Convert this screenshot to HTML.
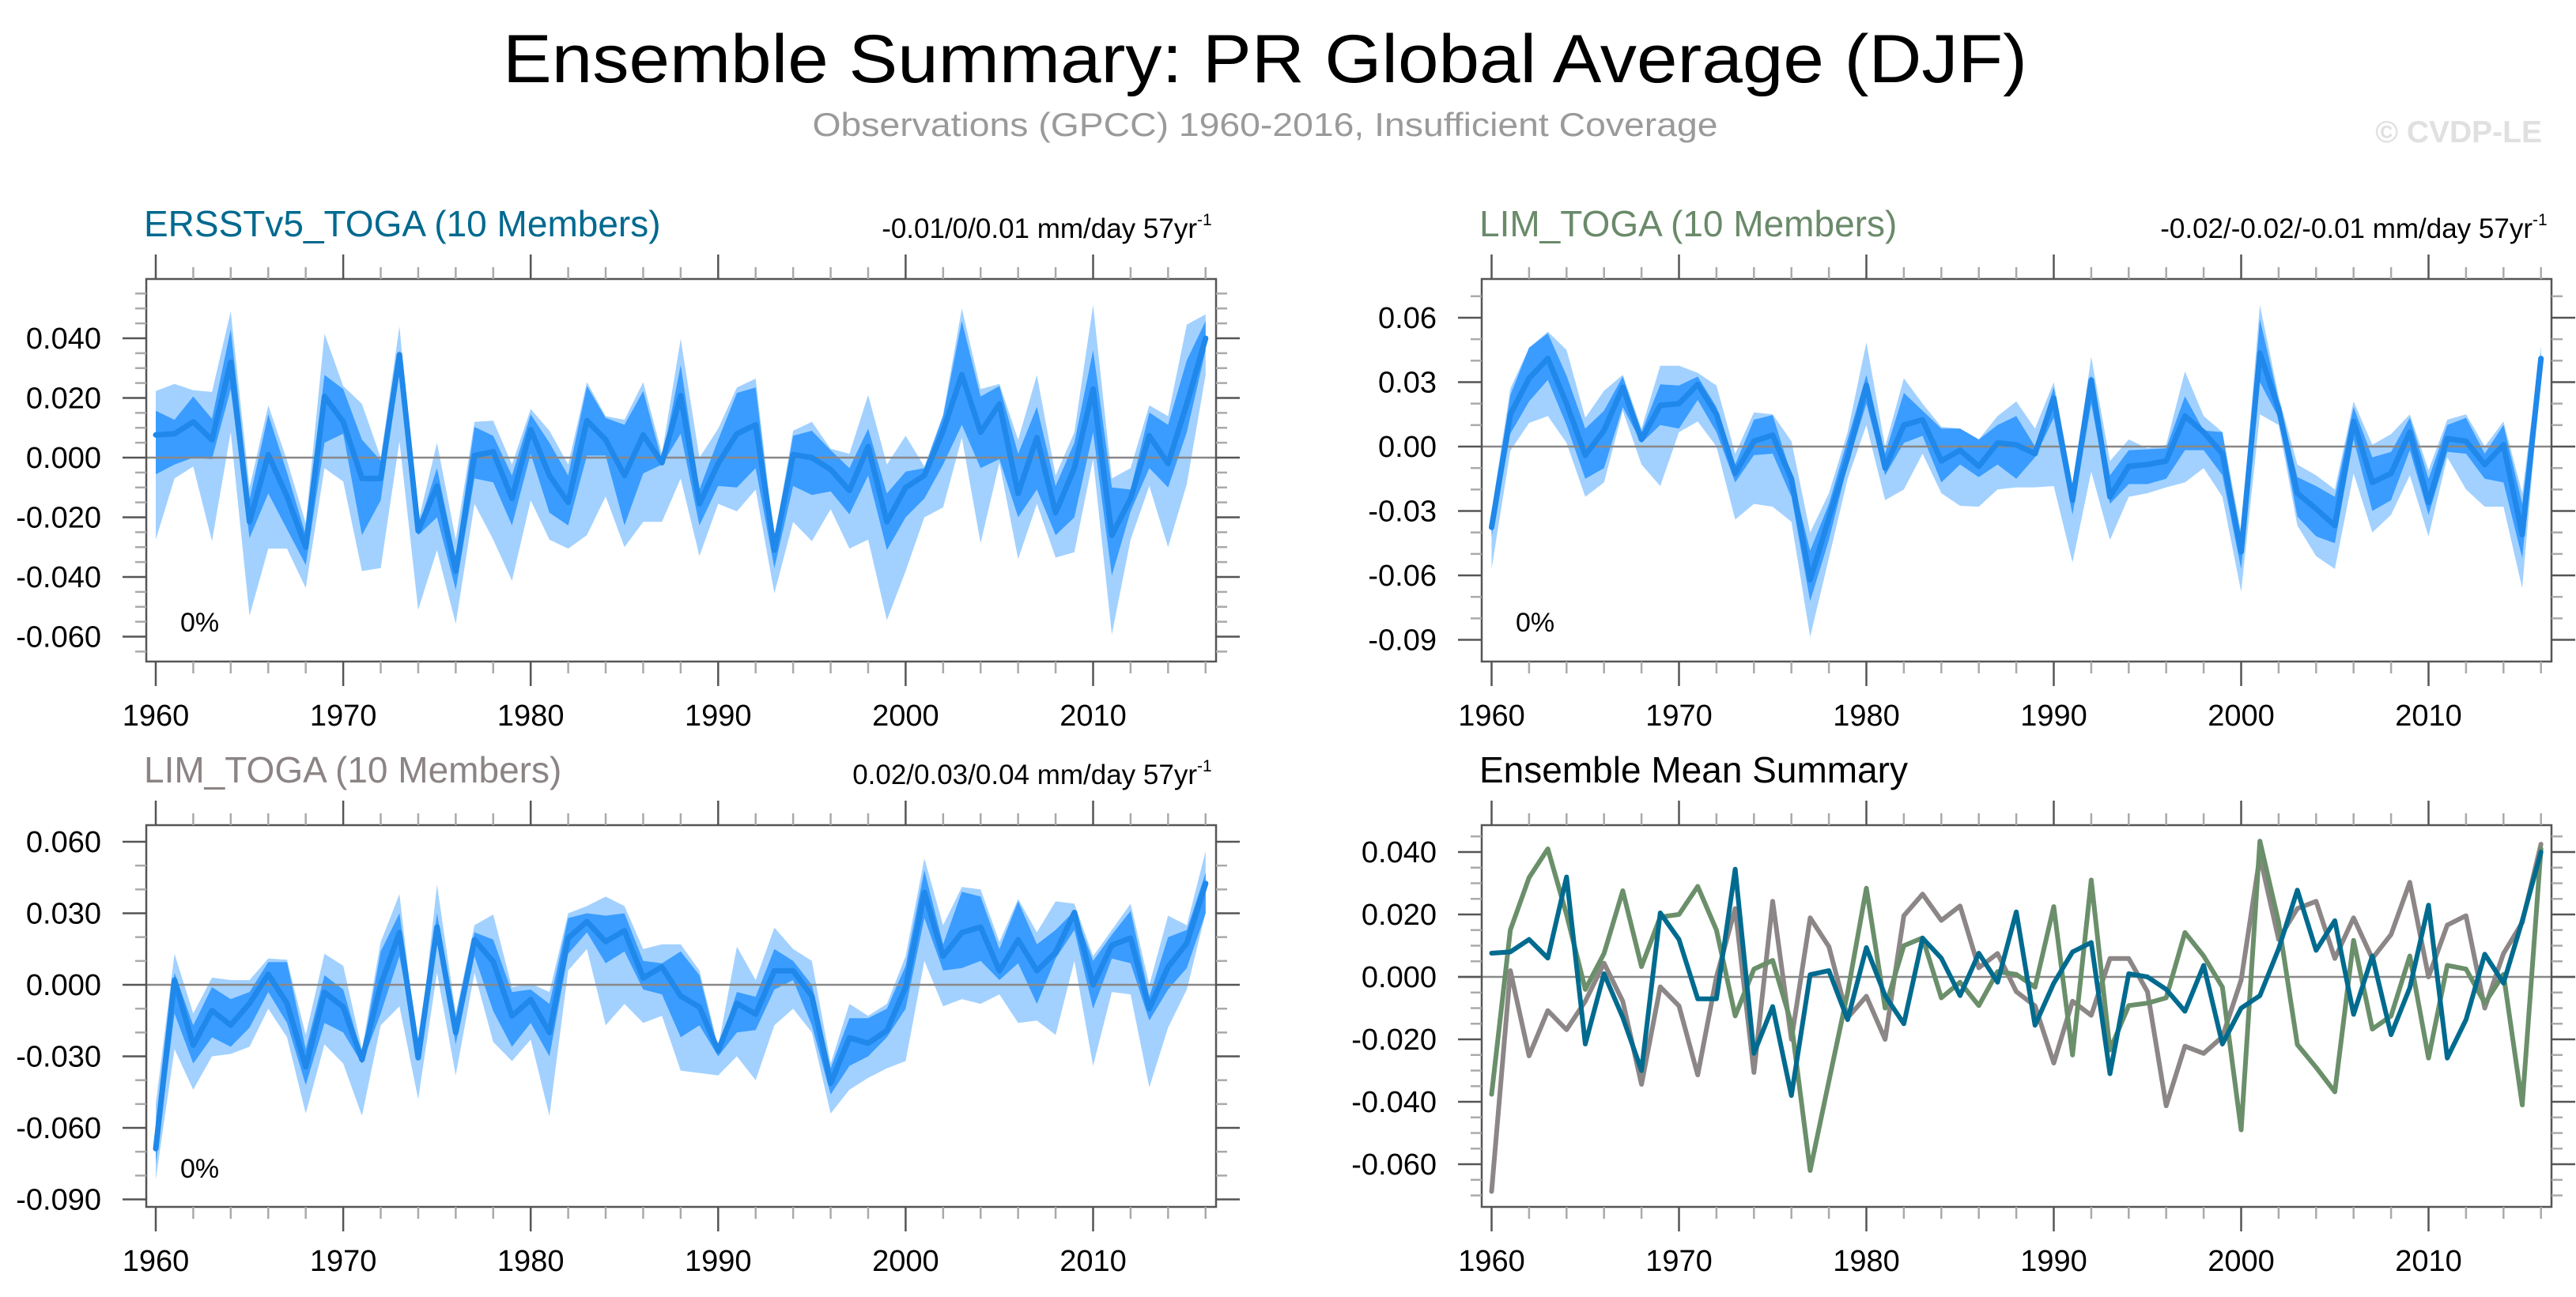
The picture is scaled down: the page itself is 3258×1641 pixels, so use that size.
<!DOCTYPE html>
<html><head><meta charset="utf-8"><style>
html,body{margin:0;padding:0;background:#fff;}
svg{display:block;font-family:"Liberation Sans",Arial,sans-serif;}
</style></head><body>
<svg id="fig" width="3258" height="1641" viewBox="0 0 3258 1641" xmlns="http://www.w3.org/2000/svg">
<rect width="3258" height="1641" fill="#fff"/>
<text x="1600" y="104" text-anchor="middle" font-size="86" textLength="1928" lengthAdjust="spacingAndGlyphs" fill="#000">Ensemble Summary: PR Global Average (DJF)</text>
<text x="1600" y="172" text-anchor="middle" font-size="42" textLength="1145" lengthAdjust="spacingAndGlyphs" fill="#9a9a9a">Observations (GPCC) 1960-2016, Insufficient Coverage</text>
<text x="3215" y="180" text-anchor="end" font-size="39" font-weight="bold" fill="#e0e0e0">© CVDP-LE</text>
</svg>
<script>
const years = [];
for (let y = 1960; y <= 2016; y++) years.push(y);

// Panel 1: ERSSTv5_TOGA
const ersstMean = [0.0076,0.008,0.012,0.006,0.032,-0.0215,0.001,-0.013,-0.030,0.0205,0.012,-0.007,-0.007,0.0345,-0.0245,-0.0095,-0.038,0.0007,0.002,-0.0137,0.0094,-0.006,-0.015,0.0124,0.006,-0.006,0.0076,-0.0017,0.0208,-0.0155,-0.002,0.008,0.011,-0.031,0.001,0,-0.004,-0.011,0.0037,-0.0215,-0.010,-0.006,0.009,0.0278,0.0085,0.018,-0.012,0.0067,-0.0185,-0.0035,0.023,-0.026,-0.0137,0.0073,-0.002,0.018,0.040];
const ersstOutHi = [0.0223,0.0247,0.0226,0.022,0.049,-0.010,0.0175,-0.001,-0.022,0.0415,0.024,0.018,0,0.044,-0.0215,0.005,-0.0275,0.012,0.0124,-0.0023,0.0163,0.009,-0.0023,0.0253,0.0139,0.0127,0.0253,0.0013,0.0398,0,0.0097,0.0235,0.0265,-0.0275,0.009,0.012,0.003,0.0013,0.021,-0.0023,0.0073,-0.003,0.0145,0.050,0.023,0.0247,0.006,0.0277,-0.006,0.0085,0.0512,-0.007,-0.0035,0.0175,0.0139,0.0446,0.048];
const ersstInHi = [0.0157,0.0127,0.0205,0.013,0.043,-0.014,0.0145,-0.005,-0.026,0.0277,0.023,0.006,-0.001,0.036,-0.0233,-0.0035,-0.0335,0.0103,0.0073,-0.006,0.0145,0.005,-0.006,0.024,0.0133,0.011,0.0223,-0.001,0.031,-0.0107,0.006,0.0217,0.0235,-0.0287,0.0073,0.009,0.0025,-0.0035,0.0097,-0.012,-0.0047,-0.0035,0.0139,0.0458,0.0205,0.024,0.0013,0.017,-0.0095,0.005,0.036,-0.010,-0.0107,0.0151,0.011,0.0326,0.0458];
const ersstInLo = [-0.0056,-0.0023,0,-0.0005,0.023,-0.027,-0.012,-0.024,-0.036,0.005,0.008,-0.026,-0.0143,0.030,-0.026,-0.020,-0.0443,-0.007,-0.0083,-0.0227,0.0013,-0.0185,-0.0227,0.0007,0.0007,-0.0227,-0.0053,-0.0023,0.008,-0.0227,-0.0095,-0.010,-0.0035,-0.037,-0.0095,-0.0125,-0.0113,-0.019,-0.006,-0.031,-0.020,-0.0137,-0.0023,0.011,-0.0035,-0.0005,-0.020,-0.0107,-0.026,-0.020,0.0085,-0.0395,-0.018,-0.0035,-0.010,0.0085,0.036];
const ersstOutLo = [-0.0275,-0.007,-0.003,-0.028,0.0085,-0.053,-0.0305,-0.0305,-0.0437,-0.0035,-0.008,-0.038,-0.037,0.0055,-0.051,-0.031,-0.0557,-0.0155,-0.0275,-0.0413,-0.0143,-0.0275,-0.0305,-0.026,-0.013,-0.030,-0.0215,-0.0215,-0.007,-0.033,-0.0155,-0.018,-0.0107,-0.0455,-0.0215,-0.028,-0.0173,-0.0305,-0.0275,-0.0545,-0.038,-0.020,-0.0167,0.0067,-0.0287,-0.0017,-0.034,-0.0155,-0.0335,-0.0317,-0.0005,-0.0593,-0.0275,-0.0095,-0.030,-0.0089,0.0277];

// Panel 2: LIM_TOGA (green)
const limMean = [-0.0376,0.015,0.0318,0.041,0.020,-0.004,0.0075,0.0276,0.0033,0.0192,0.020,0.029,0.015,-0.0125,0.0025,0.0053,-0.015,-0.062,-0.0334,-0.005,0.0284,-0.010,0.010,0.0125,-0.0067,-0.0017,-0.0092,0.0017,0.0008,-0.0033,0.0225,-0.025,0.031,-0.0234,-0.0092,-0.0084,-0.0067,0.0142,0.0067,-0.0033,-0.049,0.0435,0.0175,-0.0217,-0.029,-0.0368,0.0117,-0.0167,-0.0125,0.0067,-0.026,0.0037,0.0025,-0.0084,0.0008,-0.041,0.041];
const limOutHi = [-0.030,0.027,0.046,0.0535,0.045,0.0134,0.026,0.0334,0.0084,0.0376,0.0376,0.0343,0.0284,-0.0033,0.0159,0.015,0.0025,-0.040,-0.0217,0.0067,0.0485,0,0.0318,0.020,0.0092,0.0084,0.0033,0.0142,0.021,0.0084,0.030,-0.0184,0.0418,-0.0067,0.0033,-0.0008,0.0008,0.035,0.0142,0.0067,-0.040,0.066,0.0234,-0.0084,-0.0134,-0.020,0.021,0.0008,0.0058,0.015,-0.011,0.0125,0.015,0,0.0117,-0.0217,0.0468];
const limInHi = [-0.034,0.024,0.046,0.0527,0.033,0.0084,0.0167,0.0326,0.0067,0.029,0.0284,0.0326,0.0184,-0.0084,0.0125,0.0147,-0.0134,-0.0485,-0.0267,0.0033,0.0334,-0.0033,0.025,0.0167,0.0084,0.0084,0.0033,0.010,0.0142,0,0.0276,-0.0184,0.0334,-0.0134,-0.0017,-0.0013,-0.0008,0.0234,0.0075,0.0067,-0.045,0.0593,0.0217,-0.0142,-0.0184,-0.0234,0.0184,-0.005,-0.0025,0.0134,-0.015,0.010,0.0134,-0.0033,0.010,-0.0267,0.0435];
const limInLo = [-0.042,0.006,0.021,0.031,0.010,-0.015,-0.010,0.0184,0.0017,0.010,0.0084,0.0217,0.0067,-0.0167,-0.004,-0.0033,-0.0234,-0.072,-0.0435,-0.0084,0.020,-0.0134,0.0017,0.005,-0.0167,-0.0084,-0.0142,-0.0084,-0.015,-0.005,0.0134,-0.0318,0.020,-0.0267,-0.0175,-0.0175,-0.015,-0.0017,-0.0017,-0.0134,-0.057,0.030,0.0134,-0.0326,-0.0418,-0.045,0.0033,-0.030,-0.025,-0.0017,-0.0318,-0.0025,-0.0033,-0.015,-0.0167,-0.052,0.0384];
const limOutLo = [-0.057,-0.002,0.011,0.0142,0.0017,-0.0234,-0.0167,0.0167,-0.0084,-0.0184,0.0067,0.0117,0,-0.034,-0.0267,-0.028,-0.035,-0.0886,-0.052,-0.015,0.010,-0.025,-0.020,-0.0033,-0.0217,-0.0276,-0.028,-0.020,-0.019,-0.019,-0.0184,-0.054,-0.0117,-0.0435,-0.0234,-0.0217,-0.019,-0.0167,-0.010,-0.0234,-0.0677,0.015,0.010,-0.0368,-0.051,-0.057,-0.0125,-0.040,-0.0318,-0.0134,-0.0418,-0.005,-0.020,-0.028,-0.028,-0.066,0.035];

// Panel 3: LIM_TOGA (gray)
const grayMean = [-0.0687,0.002,-0.0253,-0.0108,-0.0169,-0.0078,0.0044,-0.0078,-0.0344,-0.0032,-0.0093,-0.0314,0,0.0219,-0.0306,0.0242,-0.020,0.0189,0.0097,-0.0131,-0.0062,-0.020,0.0196,0.0265,0.0181,0.0227,0.0029,0.0075,-0.0047,-0.0093,-0.0276,-0.0078,-0.0123,0.0059,0.0059,-0.0047,-0.0413,-0.0222,-0.0245,-0.0192,-0.001,0.0387,0.012,0.0219,0.0242,0.0059,0.0189,0.0059,0.0136,0.0303,0,0.0166,0.0196,-0.010,0.0075,0.0174,0.0425];
const grayOutHi = [-0.050,0.013,-0.012,0.003,0.002,0.002,0.011,0.0105,-0.021,0.013,0.008,-0.027,0.018,0.038,-0.030,0.042,-0.012,0.025,0.0295,-0.001,0.0005,-0.003,0.030,0.033,0.037,0.033,0.015,0.017,0.017,0.006,-0.026,0.016,0.002,0.024,0.015,0.010,-0.033,-0.008,-0.013,-0.008,0.012,0.053,0.025,0.041,0.040,0.018,0.036,0.022,0.035,0.034,0.012,0.023,0.034,0.0,0.029,0.025,0.056];
const grayInHi = [-0.058,0.005,-0.017,-0.001,-0.006,-0.003,0.0095,0.0095,-0.027,0.004,-0.002,-0.029,0.014,0.030,-0.030,0.030,-0.015,0.022,0.019,-0.003,-0.002,-0.008,0.028,0.030,0.029,0.030,0.010,0.009,0.014,0.004,-0.027,-0.003,-0.005,0.015,0.010,0,-0.035,-0.014,-0.014,-0.010,0.008,0.048,0.017,0.039,0.037,0.015,0.035,0.017,0.023,0.031,0.010,0.021,0.031,-0.005,0.020,0.023,0.047];
const grayInLo = [-0.075,-0.012,-0.033,-0.022,-0.026,-0.018,-0.003,-0.016,-0.042,-0.016,-0.020,-0.033,-0.012,0.012,-0.031,0.018,-0.025,0.012,-0.011,-0.026,-0.016,-0.030,0.013,0.022,0.009,0.014,-0.002,-0.004,-0.022,-0.017,-0.030,-0.020,-0.019,-0.002,0.002,-0.017,-0.046,-0.034,-0.030,-0.022,-0.010,0.028,0.006,0.007,0.010,0.002,0.009,-0.008,0.011,0.023,-0.010,0.011,0.009,-0.015,-0.002,0.007,0.030];
const grayOutLo = [-0.0816,-0.027,-0.044,-0.030,-0.029,-0.026,-0.010,-0.022,-0.054,-0.025,-0.033,-0.055,-0.017,-0.009,-0.048,0.005,-0.038,0.005,-0.024,-0.032,-0.023,-0.055,0.006,0.015,-0.017,-0.008,-0.016,-0.013,-0.036,-0.037,-0.038,-0.030,-0.040,-0.017,-0.010,-0.020,-0.054,-0.044,-0.039,-0.035,-0.032,0.010,-0.009,-0.006,-0.008,-0.004,-0.016,-0.015,-0.021,0.010,-0.034,-0.003,-0.004,-0.043,-0.018,-0.002,0.030];

// tick values / labels
const xTickYears = [1960,1970,1980,1990,2000,2010];
const xTickLabels = ["1960","1970","1980","1990","2000","2010"];
const p1YTicks = [0.04,0.02,0,-0.02,-0.04,-0.06];
const p1YLabels = ["0.040","0.020","0.000","-0.020","-0.040","-0.060"];
const p2YTicks = [0.06,0.03,0,-0.03,-0.06,-0.09];
const p2YLabels = ["0.06","0.03","0.00","-0.03","-0.06","-0.09"];
const p3YTicks = [0.06,0.03,0,-0.03,-0.06,-0.09];
const p3YLabels = ["0.060","0.030","0.000","-0.030","-0.060","-0.090"];
const p4YTicks = [0.04,0.02,0,-0.02,-0.04,-0.06];
const p4YLabels = ["0.040","0.020","0.000","-0.020","-0.040","-0.060"];

const NS = "http://www.w3.org/2000/svg";
const svg = document.getElementById("fig");
function mk(tag, attrs, parent) {
  const e = document.createElementNS(NS, tag);
  for (const k in attrs) e.setAttribute(k, attrs[k]);
  (parent || svg).appendChild(e);
  return e;
}

function makePanel(cfg) {
  const g = mk("g", {});
  
  
  const L = cfg.left, R = cfg.right, T = cfg.top, B = cfg.bottom;
  const sx = yr => cfg.x0 + (yr - 1960) * cfg.xs;
  const sy = v => cfg.y0 - v * cfg.ys;

  const cid = "clip-" + cfg.name;
  const cp = mk("clipPath", {id: cid}, g);
  mk("rect", {x: L, y: T, width: R - L, height: B - T}, cp);
  const plot = mk("g", {"clip-path": "url(#" + cid + ")"}, g);

  function band(hi, lo, color, nm) {
    let d = "";
    years.forEach((yr, i) => { d += (i ? "L" : "M") + sx(yr).toFixed(1) + "," + sy(hi[i]).toFixed(1); });
    for (let i = years.length - 1; i >= 0; i--) d += "L" + sx(years[i]).toFixed(1) + "," + sy(lo[i]).toFixed(1);
    const p = mk("path", {d: d + "Z", fill: color, stroke: "none"}, plot);
    
    
  }
  function line(vals, color, w, nm) {
    let d = "";
    years.forEach((yr, i) => { d += (i ? "L" : "M") + sx(yr).toFixed(1) + "," + sy(vals[i]).toFixed(1); });
    const p = mk("path", {d: d, fill: "none", stroke: color, "stroke-width": w, "stroke-linejoin": "round", "stroke-linecap": "round"}, plot);
    
    
  }
  if (cfg.bands) {
    band(cfg.bands.outHi, cfg.bands.outLo, "#a2d1ff", "outer-spread-band");
    band(cfg.bands.inHi, cfg.bands.inLo, "#3a9cff", "inner-spread-band");
  }
  const zl = mk("line", {x1: L - 30, x2: R + 30, y1: sy(0), y2: sy(0), stroke: "#888", "stroke-width": 2.5}, g);
  
  
  if (cfg.bands) { plot.appendChild(zl); }
  cfg.series.forEach(s => line(s.vals, s.color, s.w, s.name));
  if (!cfg.bands) g.insertBefore(zl, plot);

  const box = mk("rect", {x: L, y: T, width: R - L, height: B - T, fill: "none", stroke: "#555", "stroke-width": 2.5}, g);
  
  

  for (let yr = 1960; yr <= 2016; yr += 2) {
    const major = (yr % 10 === 0);
    const len = major ? 31 : 15;
    const c = major ? "#555" : "#aaa";
    mk("line", {x1: sx(yr), x2: sx(yr), y1: T, y2: T - len, stroke: c, "stroke-width": 2.5}, g);
    mk("line", {x1: sx(yr), x2: sx(yr), y1: B, y2: B + len, stroke: c, "stroke-width": 2.5}, g);
  }
  xTickYears.forEach((yr, i) => {
    const t = mk("text", {x: sx(yr), y: B + 81, "text-anchor": "middle", "font-size": 38, fill: "#000"}, g);
    t.textContent = xTickLabels[i];
    
    
  });
  const minStep = cfg.minor;
  for (let k = -40; k <= 40; k++) {
    const v = k * minStep;
    const y = sy(v);
    if (y < T + 3 || y > B - 3) continue;
    const isMajor = cfg.yTicks.some(t => Math.abs(t - v) < 1e-9);
    const len = isMajor ? 30 : 14;
    const c = isMajor ? "#555" : "#aaa";
    mk("line", {x1: L, x2: L - len, y1: y, y2: y, stroke: c, "stroke-width": 2.5}, g);
    mk("line", {x1: R, x2: R + len, y1: y, y2: y, stroke: c, "stroke-width": 2.5}, g);
  }
  cfg.yTicks.forEach((v, i) => {
    const t = mk("text", {x: L - 57, y: sy(v) + 13, "text-anchor": "end", "font-size": 38, fill: "#000"}, g);
    t.textContent = cfg.yLabels[i];
    
    
  });
  const tt = mk("text", {x: cfg.left - 3, y: cfg.titleY, "font-size": 46, fill: cfg.titleColor}, g);
  tt.textContent = cfg.title;
  
  
  if (cfg.trend) {
    const tr = mk("text", {x: R - 24, y: cfg.titleY + 2, "text-anchor": "end", "font-size": 35, fill: "#000"}, g);
    tr.textContent = cfg.trend;
    
    
    const sup = mk("text", {x: R - 24, y: cfg.titleY - 14, "font-size": 21, fill: "#000"}, g);
    sup.textContent = "-1";
    
    
  }
  if (cfg.pct) {
    const p = mk("text", {x: L + 43, y: cfg.pctY, "font-size": 34, fill: "#000"}, g);
    p.textContent = cfg.pct;
    
    
  }
}

makePanel({name: "ersst-toga-panel", left: 185, right: 1538, top: 353, bottom: 837, x0: 197, xs: 23.71, y0: 579, ys: 3775, minor: 0.005,
  yTicks: p1YTicks, yLabels: p1YLabels, title: "ERSSTv5_TOGA (10 Members)", titleColor: "#00698f", titleY: 299,
  trend: "-0.01/0/0.01 mm/day 57yr", pct: "0%", pctY: 799,
  bands: {outHi: ersstOutHi, inHi: ersstInHi, inLo: ersstInLo, outLo: ersstOutLo},
  series: [{vals: ersstMean, color: "#1f88ea", w: 7, name: "ensemble-mean-line"}]});

makePanel({name: "lim-toga-green-panel", left: 1874, right: 3227, top: 353, bottom: 837, x0: 1886.5, xs: 23.7, y0: 565, ys: 2717, minor: 0.01,
  yTicks: p2YTicks, yLabels: p2YLabels, title: "LIM_TOGA (10 Members)", titleColor: "#6a8a6a", titleY: 299,
  trend: "-0.02/-0.02/-0.01 mm/day 57yr", pct: "0%", pctY: 799,
  bands: {outHi: limOutHi, inHi: limInHi, inLo: limInLo, outLo: limOutLo},
  series: [{vals: limMean, color: "#1f88ea", w: 7, name: "ensemble-mean-line"}]});

makePanel({name: "lim-toga-gray-panel", left: 185, right: 1538, top: 1044, bottom: 1527, x0: 197, xs: 23.71, y0: 1246, ys: 3017, minor: 0.01,
  yTicks: p3YTicks, yLabels: p3YLabels, title: "LIM_TOGA (10 Members)", titleColor: "#8c8484", titleY: 990,
  trend: "0.02/0.03/0.04 mm/day 57yr", pct: "0%", pctY: 1490,
  bands: {outHi: grayOutHi, inHi: grayInHi, inLo: grayInLo, outLo: grayOutLo},
  series: [{vals: grayMean, color: "#1f88ea", w: 7, name: "ensemble-mean-line"}]});

makePanel({name: "ensemble-mean-summary-panel", left: 1874, right: 3227, top: 1044, bottom: 1527, x0: 1886.5, xs: 23.7, y0: 1236, ys: 3950, minor: 0.005,
  yTicks: p4YTicks, yLabels: p4YLabels, title: "Ensemble Mean Summary", titleColor: "#000", titleY: 990,
  series: [
    {vals: grayMean, color: "#8c8686", w: 6, name: "gray-lim-toga-mean-line"},
    {vals: limMean, color: "#6a8f6a", w: 6, name: "green-lim-toga-mean-line"},
    {vals: ersstMean, color: "#006b8f", w: 6, name: "ersst-toga-mean-line"}
  ]});
</script>
</body></html>
